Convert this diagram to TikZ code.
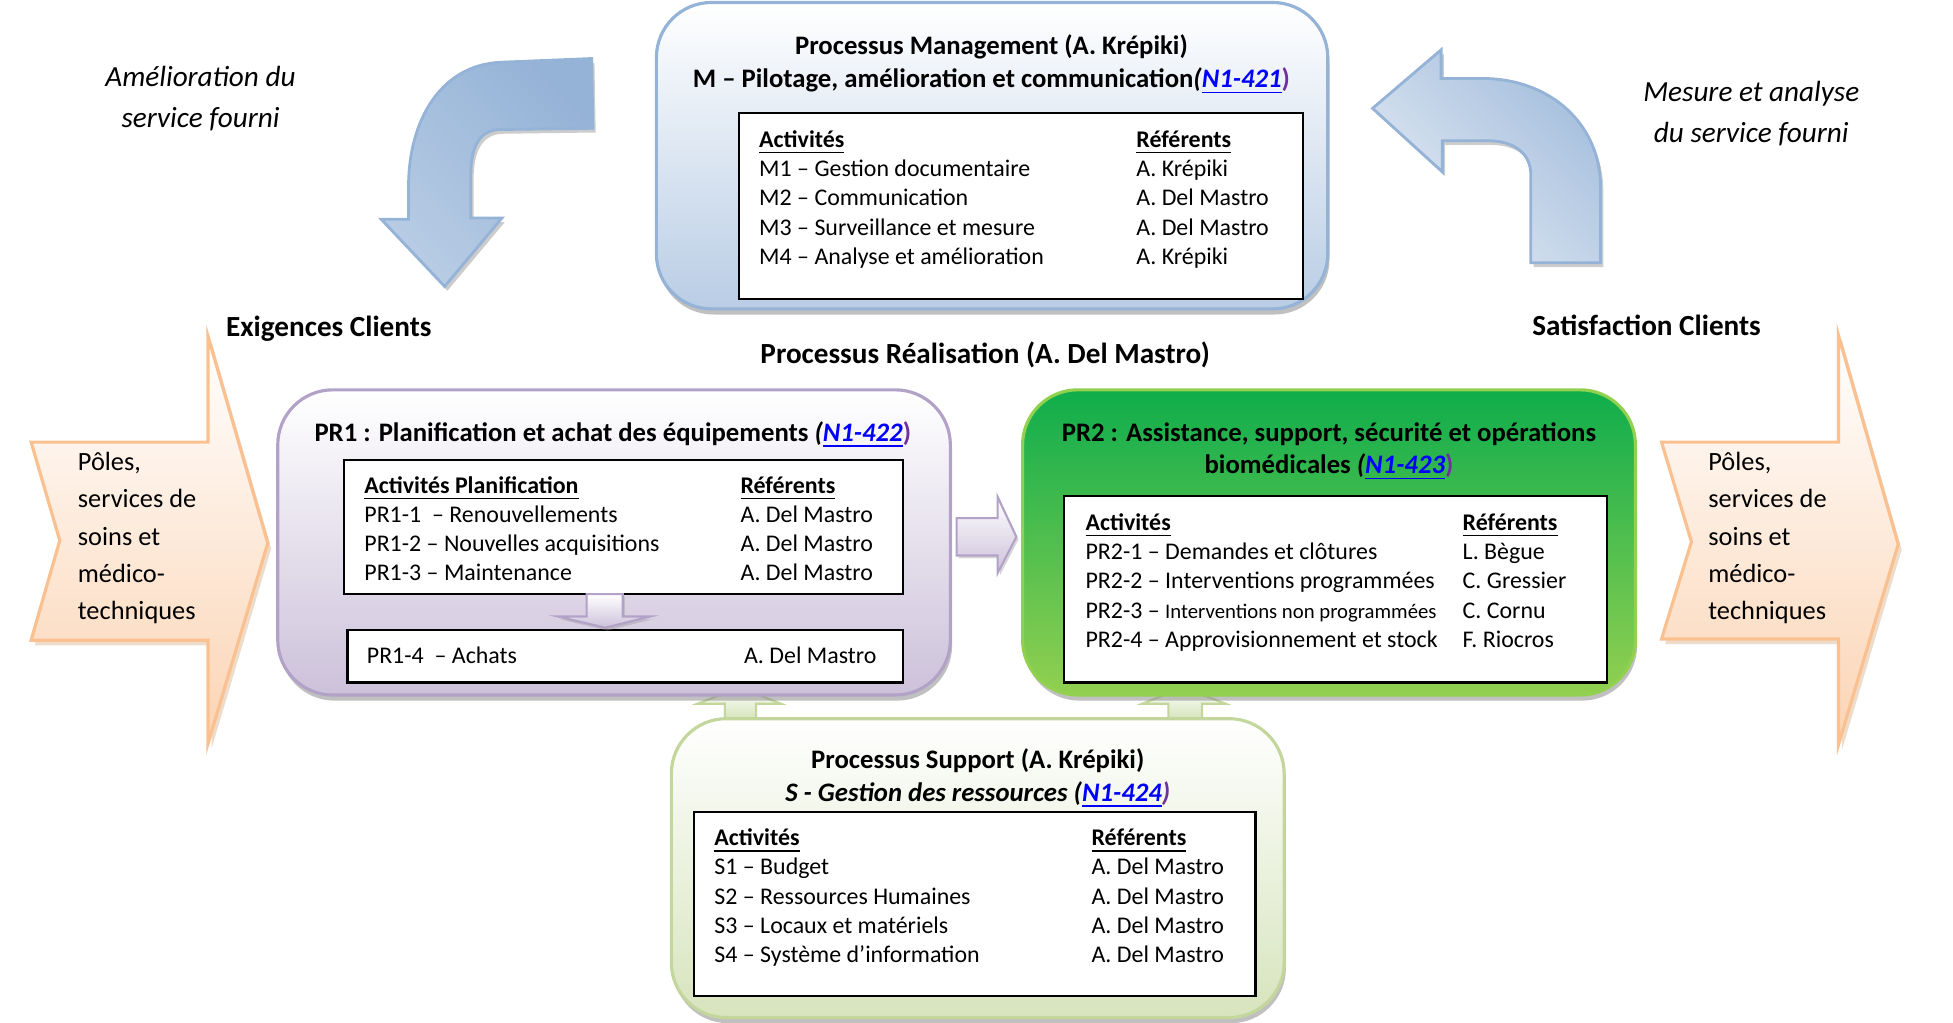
\documentclass[tikz,border=0pt]{standalone}
\usepackage{fontspec}
\setmainfont{Carlito}
\usepackage{tikz}
\usetikzlibrary{fit,shadows}
\pgfdeclarelayer{arrowlayer}
\pgfsetlayers{arrowlayer,main}
\definecolor{mgmtblue}{HTML}{B9CDE5}
\definecolor{mgmtline}{HTML}{95B3D7}
\definecolor{arrowlight}{HTML}{E2EAF4}
\definecolor{arrowdark}{HTML}{95B3D7}
\definecolor{prlilac}{HTML}{CCC1DA}
\definecolor{prline}{HTML}{B3A2C7}
\definecolor{prgreentop}{HTML}{0FAD4C}
\definecolor{prgreenbot}{HTML}{92D050}
\definecolor{supgreen}{HTML}{D7E4BD}
\definecolor{supline}{HTML}{C3D69B}
\definecolor{peach}{HTML}{FBD4B4}
\definecolor{peachline}{HTML}{FAC08F}
\definecolor{linkblue}{HTML}{0000FF}
\definecolor{linkpurple}{HTML}{7030A0}
\newcommand{\boxfont}{\fontsize{6.8}{8.3}\selectfont}
\newcommand{\titlefont}{\fontsize{7.6}{9.2}\selectfont\bfseries}
\newcommand{\bigheadfont}{\fontsize{8.3}{10}\selectfont\bfseries}
\newcommand{\notefont}{\fontsize{8.3}{11.7}\selectfont\itshape}
\newcommand{\polefont}{\fontsize{7.5}{10.6}\selectfont}
\newcommand{\nlink}[1]{\textit{(}\textcolor{linkblue}{\textit{\underline{#1}}}\textcolor{linkpurple}{)}}
\tikzstyle{process box}=[rounded corners=0.55cm, line width=0.9pt, inner sep=0pt, drop shadow={shadow xshift=0.5pt, shadow yshift=-1.6pt, fill=black!45, opacity=0.55}]
\tikzstyle{activity box}=[draw=black, fill=white, line width=0.6pt, inner sep=0pt]
\tikzstyle{rows}=[anchor=base west, inner sep=0pt, font=\boxfont]
\tikzstyle{heading}=[align=center, inner sep=0pt, font=\titlefont]
\tikzstyle{big heading}=[align=center, inner sep=0pt, font=\bigheadfont]
\tikzstyle{note}=[align=center, inner sep=0pt, font=\notefont]
\tikzstyle{pole text}=[anchor=west, align=left, inner sep=0pt, font=\polefont]
\tikzstyle{curved arrow}=[draw=arrowdark, line width=0.8pt, drop shadow={shadow xshift=0.8pt, shadow yshift=-1.2pt, fill=black!40, opacity=0.5}]
\tikzstyle{pole arrow}=[draw=peachline, line width=0.9pt, top color=white, bottom color=peach, drop shadow={shadow xshift=1pt, shadow yshift=-1.5pt, fill=brown!60, opacity=0.45}]
\tikzstyle{small arrow}=[draw=prline, line width=0.6pt, top color=white, bottom color=prlilac, drop shadow={shadow xshift=0.6pt, shadow yshift=-0.8pt, fill=black!40, opacity=0.4}]

\begin{document}
\begin{tikzpicture}[x=0.0124553cm, y=-0.0124553cm]
	\useasboundingbox (0,0) rectangle (1568,821);
	\begin{pgfonlayer}{arrowlayer}
		\draw [draw=supline, line width=0.6pt, top color=white, bottom color=supgreen] (582,577) -- (582,565) -- (560,565) -- (594,552) -- (627,565) -- (607,565) -- (607,577) -- cycle;
		\draw [draw=supline, line width=0.6pt, top color=white, bottom color=supgreen] (938,577) -- (938,565) -- (917,565) -- (950,552) -- (984,565) -- (965,565) -- (965,577) -- cycle;
	\end{pgfonlayer}

	% feedback arrows
	\draw [curved arrow, top color=arrowdark, middle color=arrowlight, bottom color=arrowdark!55!arrowlight, shading angle=-45] (475,47) -- (402,50) .. controls (355,52) and (328,95) .. (328,150) -- (328,176) -- (306,176) -- (357,230) -- (403,175) -- (378,175) -- (378,140) .. controls (378,118) and (385,104) .. (402,104) -- (476,103) -- cycle;
	\draw [curved arrow, top color=arrowdark!80!arrowlight, bottom color=arrowlight, shading angle=-45] (1102,87) -- (1157,40) -- (1157,63) -- (1190,63) .. controls (1245,63) and (1285,100) .. (1285,150) -- (1285,211) -- (1229,211) -- (1229,140) .. controls (1229,123) and (1215,113) .. (1195,113) -- (1158,113) -- (1158,138) -- cycle;
	\node [note] (improve) at (161,79) {Amélioration du\\service fourni};
	\node [note] (measure) at (1406,91) {Mesure et analyse\\du service fourni};

	% clients
	\draw [pole arrow] (25,355) -- (167,355) -- (167,270) -- (215,436) -- (167,597) -- (167,514) -- (25,514) -- (48,434) -- cycle;
	\draw [pole arrow] (1334,355) -- (1476,355) -- (1476,269) -- (1524,437) -- (1476,598) -- (1476,513) -- (1334,513) -- (1358,435) -- cycle;
	\node [pole text] (poles in) at (62,432) {Pôles,\\services de\\soins et\\médico-\\techniques};
	\node [pole text] (poles out) at (1371,432) {Pôles,\\services de\\soins et\\médico-\\techniques};
	\node [big heading] (needs) at (264,264) {Exigences Clients};
	\node [big heading] (satisf) at (1322,261) {Satisfaction Clients};
	\node [big heading] (real) at (791,285) {Processus Réalisation (A. Del Mastro)};

	% management
	\node [process box, draw=mgmtline, top color=white, bottom color=mgmtblue, fit={(527,2) (1066,248)}] (mgmt) {};
	\node [heading] (mgmt title) at (796,52) {Processus Management (A. Krépiki)\\M – Pilotage, amélioration et communication\nlink{N1-421}};
	\node [activity box, fit={(593,91) (1046,240)}] (mgmt act) {};
	\node [rows] (mgmt rows) at (609,118.5) {\begin{tabular}[t]{@{}p{3.77cm}@{}l@{}}
		\textbf{\underline{Activités}} & \textbf{\underline{Référents}}\\
		M1 – Gestion documentaire & A. Krépiki\\
		M2 – Communication & A. Del Mastro\\
		M3 – Surveillance et mesure & A. Del Mastro\\
		M4 – Analyse et amélioration & A. Krépiki
	\end{tabular}};

	% PR1
	\node [process box, draw=prline, top color=white, bottom color=prlilac, fit={(223,313) (763,558)}] (pr1) {};
	\node [heading] (pr1 title) at (492,349) {PR1 : Planification et achat des équipements \nlink{N1-422}};
	\node [activity box, fit={(276,369) (725,477)}] (pr1 act) {};
	\node [rows] (pr1 rows) at (292,396) {\begin{tabular}[t]{@{}p{3.76cm}@{}l@{}}
		\textbf{\underline{Activités Planification}} & \textbf{\underline{Référents}}\\
		PR1-1 \ – Renouvellements & A. Del Mastro\\
		PR1-2 – Nouvelles acquisitions & A. Del Mastro\\
		PR1-3 – Maintenance & A. Del Mastro
	\end{tabular}};
	\node [activity box, fit={(279,506) (725,548)}] (pr1 buy) {};
	\node [rows] (pr1 buy row) at (294,533) {\begin{tabular}[t]{@{}p{3.77cm}@{}l@{}}
		PR1-4 \ – Achats & A. Del Mastro
	\end{tabular}};
	\draw [small arrow] (471,477) -- (500,477) -- (500,495) -- (522,495) -- (486,504) -- (448,495) -- (471,495) -- cycle;

	% PR2
	\node [process box, draw=prgreenbot, top color=prgreentop, bottom color=prgreenbot, fit={(821,313) (1313,558)}] (pr2) {};
	\node [heading] (pr2 title) at (1067,362.5) {PR2 : Assistance, support, sécurité et opérations\\biomédicales \nlink{N1-423}};
	\node [activity box, fit={(854,398) (1290,548)}] (pr2 act) {};
	\node [rows] (pr2 rows) at (871,426) {\begin{tabular}[t]{@{}p{3.77cm}@{}l@{}}
		\textbf{\underline{Activités}} & \textbf{\underline{Référents}}\\
		PR2-1 – Demandes et clôtures & L. Bègue\\
		PR2-2 – Interventions programmées & C. Gressier\\
		PR2-3 – {\fontsize{5.9}{8.3}\selectfont Interventions non programmées} & C. Cornu\\
		PR2-4 – Approvisionnement et stock & F. Riocros
	\end{tabular}};
	\draw [small arrow] (768,416) -- (801,416) -- (801,399) -- (816,431) -- (801,460) -- (801,446) -- (768,446) -- cycle;

	% support
	\node [process box, draw=supline, top color=white, bottom color=supgreen, fit={(539,577) (1031,817)}] (sup) {};
	\node [heading] (sup title) at (785,625) {Processus Support (A. Krépiki)\\\textit{S - Gestion des ressources \nlink{N1-424}}};
	\node [activity box, fit={(557,652) (1008,800)}] (sup act) {};
	\node [rows] (sup rows) at (573,679) {\begin{tabular}[t]{@{}p{3.77cm}@{}l@{}}
		\textbf{\underline{Activités}} & \textbf{\underline{Référents}}\\
		S1 – Budget & A. Del Mastro\\
		S2 – Ressources Humaines & A. Del Mastro\\
		S3 – Locaux et matériels & A. Del Mastro\\
		S4 – Système d’information & A. Del Mastro
	\end{tabular}};
\end{tikzpicture}
\end{document}
